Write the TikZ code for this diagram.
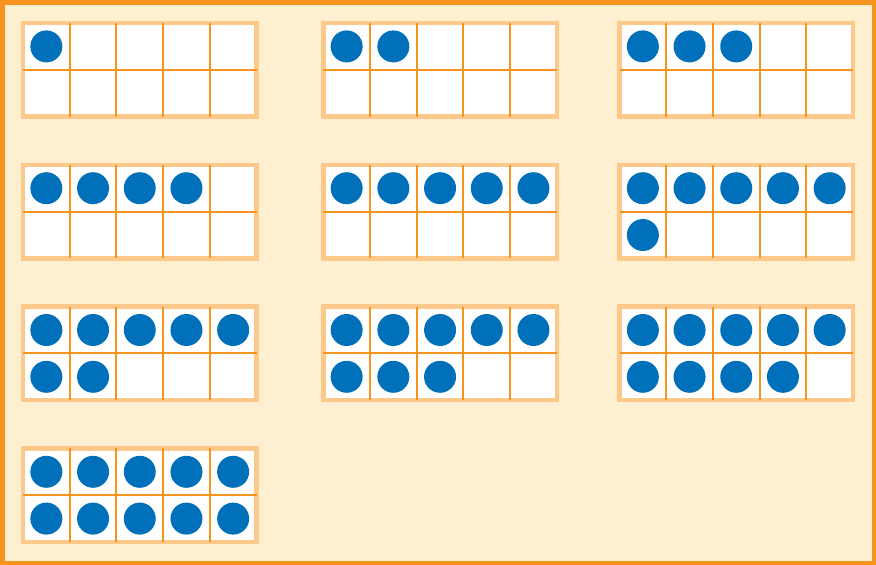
\documentclass[tikz,border=0pt]{standalone}
\usepackage{tikz}
\usepackage[dvipsnames]{xcolor}
\usetikzlibrary{calc}

\definecolor{edgeorange}{HTML}{F7941D}
\definecolor{paleorange}{HTML}{FDC98B}
\definecolor{creambg}{HTML}{FDEFD0}
\definecolor{dotblue}{HTML}{0070BA}

\begin{document}
\begin{tikzpicture}[
  x=1pt,y=-1pt,
  counter/.style={circle,fill=dotblue,inner sep=0pt,minimum size=32pt},
  ]
  \tikzset{%
    frameband/.style={
      draw=paleorange,
      fill=white,
      line width=4.5pt,
    },
    cellline/.style={
      draw=edgeorange,
      line width=2pt,
    },
  }
  %Background
  \fill[creambg] (0,0) rectangle (876,565);
  \draw[edgeorange, line width=4.5pt] (2.25,2.25) rectangle (873.75,562.75);
  \useasboundingbox (0,0) rectangle (876,565);
  %Ten frames
  \foreach \n/\fx/\fy in {1/23/23, 2/323.3/23, 3/619.5/23,
                          4/23/164.8, 5/323.3/164.8, 6/619.5/164.8,
                          7/23/306.6, 8/323.3/306.6, 9/619.5/306.6,
                          10/23/448.4} {
    \draw[frameband] (\fx,\fy) rectangle ++(233.5,93.6);
    % cell lines
    \foreach \c in {1,...,4}
      \draw[cellline] ($(\fx,\fy)+(\c*46.7,0)$) -- ++(0,93.6);
    \draw[cellline] ($(\fx,\fy)+(0,46.8)$) -- ++(233.5,0);
    % counters
    \foreach \k in {1,...,\n} {
      \pgfmathtruncatemacro{\col}{mod(\k-1,5)}
      \pgfmathtruncatemacro{\row}{div(\k-1,5)}
      \node[counter](c\n-\k) at ($(\fx,\fy)+(\col*46.7+23.35,\row*46.8+23.4)$){};
    }
  }
\end{tikzpicture}
\end{document}
